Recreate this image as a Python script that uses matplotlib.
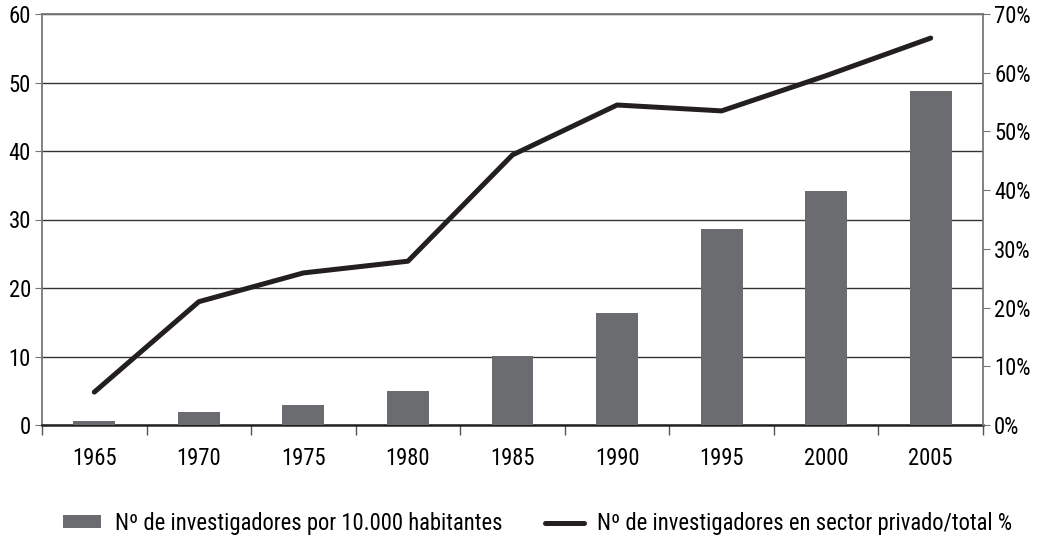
import numpy as np
import matplotlib
matplotlib.use("Agg")
import matplotlib.pyplot as plt
from matplotlib import font_manager
from matplotlib.ticker import FuncFormatter

# pick a narrow face if one is installed, else plain DejaVu at a smaller size
names = set(f.name for f in font_manager.fontManager.ttflist)
cond = [f for f in font_manager.fontManager.ttflist
        if 'ondensed' in f.fname or 'arrow' in f.fname]
font_size = 13
stretch = 'normal'
family = ['DejaVu Sans']
if 'Liberation Sans Narrow' in names:
    family = ['Liberation Sans Narrow', 'DejaVu Sans']
    font_size = 17
elif 'Roboto Condensed' in names:
    family = ['Roboto Condensed', 'DejaVu Sans']
    font_size = 16.3
elif any(f.name == 'DejaVu Sans' for f in cond):
    stretch = 'condensed'
    font_size = 14
plt.rcParams['font.family'] = family
plt.rcParams['font.stretch'] = stretch

years = ['1965', '1970', '1975', '1980', '1985', '1990', '1995', '2000', '2005']
researchers_per_10k = [0.6, 1.9, 2.9, 5.0, 10.1, 16.4, 28.6, 34.2, 48.8]
private_share_pct = [5.6, 21.0, 25.9, 27.9, 46.0, 54.5, 53.5, 59.5, 65.9]

bar_label = 'Nº de investigadores por 10.000 habitantes'
line_label = 'Nº de investigadores en sector privado/total %'

x = np.arange(len(years))

fig = plt.figure(figsize=(10.44, 5.4), dpi=100)
ax = fig.add_axes([42 / 1044, 115 / 540, 941 / 1044, 411 / 540])

ax.bar(x, researchers_per_10k, width=0.4, color='#6b6c70', zorder=3, label=bar_label)
ax.set_ylim(0, 60)
ax.set_xlim(-0.5, len(years) - 0.5)
ax.set_yticks(np.arange(0, 61, 10))
ax.yaxis.grid(True, color='#333333', linewidth=1.0, zorder=0)
ax.set_axisbelow(True)

# category labels centred, tick marks on the boundaries
ax.set_xticks(x)
ax.set_xticklabels(years)
ax.set_xticks(np.arange(-0.5, len(years), 1), minor=True)
ax.tick_params(axis='x', which='major', length=0, pad=16, labelsize=font_size)
ax.tick_params(axis='x', which='minor', length=7, color='#555555', width=1)
ax.tick_params(axis='y', length=5, color='#777777', labelsize=font_size, pad=3)

for s in ['left', 'top']:
    ax.spines[s].set_color('#777777')
    ax.spines[s].set_linewidth(1.3)
ax.spines['right'].set_visible(False)
ax.spines['bottom'].set_color('#222222')
ax.spines['bottom'].set_linewidth(1.8)

ax2 = ax.twinx()
ax2.plot(x, private_share_pct, color='#231f20', linewidth=3.6,
         solid_capstyle='round', solid_joinstyle='round', zorder=4, label=line_label)
ax2.set_ylim(0, 70)
ax2.set_yticks(np.arange(0, 71, 10))
ax2.yaxis.set_major_formatter(FuncFormatter(lambda v, p: '%d%%' % v))
ax2.tick_params(axis='y', length=5, color='#777777', labelsize=font_size, pad=3)
for s in ['left', 'top', 'bottom']:
    ax2.spines[s].set_visible(False)
ax2.spines['right'].set_color('#777777')
ax2.spines['right'].set_linewidth(1.3)

h1, l1 = ax.get_legend_handles_labels()
h2, l2 = ax2.get_legend_handles_labels()
fig.legend(h1 + h2, l1 + l2, loc='center', bbox_to_anchor=(0.515, 0.031), ncol=2,
           frameon=False, fontsize=font_size, handlelength=1.7, handleheight=0.5,
           columnspacing=1.9, handletextpad=0.6)

fig.savefig('out.png', dpi=100)
